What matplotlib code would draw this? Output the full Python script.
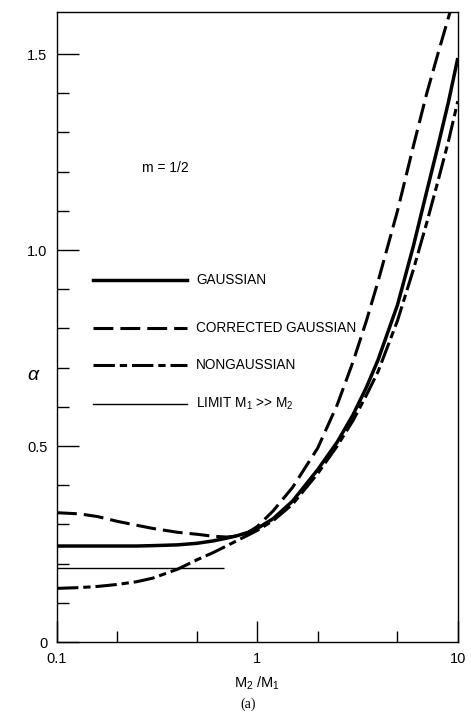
import matplotlib
matplotlib.use("Agg")
import matplotlib.pyplot as plt
from matplotlib.ticker import FixedLocator, NullFormatter
import numpy as np

plt.rcParams['font.family'] = ['Liberation Sans', 'DejaVu Sans']

# mass ratio M2/M1
ratio = [0.1, 0.13, 0.16, 0.2, 0.25, 0.3, 0.4, 0.5, 0.6, 0.7, 0.8, 0.9, 1.0,
         1.2, 1.5, 2.0, 2.5, 3.0, 3.5, 4.0, 5.0, 6.0, 7.0, 8.0, 9.0, 10.0]

alpha_gauss = [0.245, 0.245, 0.245, 0.245, 0.245, 0.246, 0.248, 0.252, 0.258, 0.265,
               0.272, 0.280, 0.290, 0.315, 0.360, 0.440, 0.510, 0.580, 0.650, 0.720,
               0.860, 1.010, 1.150, 1.270, 1.380, 1.490]
alpha_corr = [0.330, 0.327, 0.320, 0.308, 0.298, 0.290, 0.280, 0.275, 0.270, 0.268,
              0.270, 0.280, 0.295, 0.335, 0.395, 0.495, 0.605, 0.715, 0.820, 0.920,
              1.100, 1.265, 1.400, 1.505, 1.595, 1.675]
alpha_nongauss = [0.137, 0.139, 0.142, 0.147, 0.154, 0.163, 0.186, 0.210, 0.228, 0.245,
                  0.260, 0.273, 0.285, 0.310, 0.352, 0.430, 0.500, 0.565, 0.630, 0.690,
                  0.820, 0.950, 1.070, 1.180, 1.280, 1.380]

# limit M1 >> M2
limit_ratio = [0.1, 0.68]
limit_alpha = [0.19, 0.19]

labels = ["GAUSSIAN", "CORRECTED GAUSSIAN", "NONGAUSSIAN",
          "LIMIT M$_\\mathregular{1}$ >> M$_\\mathregular{2}$"]

fig = plt.figure(figsize=(4.71, 7.15), dpi=100)
ax = fig.add_axes([0.121, 0.102, 0.851, 0.881])

styles = [
    dict(color='black', lw=2.5, ls='-'),
    dict(color='black', lw=2.2, ls=(0, (6.5, 2.3))),
    dict(color='black', lw=2.2, ls=(0, (7, 1.6, 2.4, 1.6))),
    dict(color='black', lw=1.0, ls='-'),
]

series = [(ratio, alpha_gauss), (ratio, alpha_corr), (ratio, alpha_nongauss),
          (limit_ratio, limit_alpha)]
for (xs, ys), st in zip(series, styles):
    ax.plot(xs, ys, solid_capstyle='butt', dash_capstyle='butt', **st)

# hand-drawn key inside the axes
key_y = [0.924, 0.800, 0.706, 0.607]
for y, st, lab in zip(key_y, styles, labels):
    ax.plot([0.09, 0.325], [y, y], transform=ax.get_yaxis_transform(),
            dash_capstyle='butt', **st)
    ax.text(0.347, y, lab, transform=ax.get_yaxis_transform(),
            fontsize=9.8, va='center', ha='left')

ax.text(0.213, 1.21, "m = 1/2", transform=ax.get_yaxis_transform(),
        fontsize=10, va='center', ha='left')

ax.set_xscale('log')
ax.set_xlim(0.1, 10)
ax.set_ylim(0, 1.607)

ax.xaxis.set_major_locator(FixedLocator([0.1, 1, 10]))
ax.xaxis.set_minor_locator(FixedLocator([0.2, 0.5, 2, 5]))
ax.xaxis.set_minor_formatter(NullFormatter())
ax.set_xticklabels(["0.1", "1", "10"])

ax.yaxis.set_major_locator(FixedLocator([0, 0.5, 1.0, 1.5]))
ax.yaxis.set_minor_locator(FixedLocator(np.arange(0.1, 1.45, 0.1)))
ax.set_yticklabels(["0", "0.5", "1.0", "1.5"])

ax.tick_params(which='both', direction='in', width=1.0, labelsize=10.5)
ax.tick_params(axis='y', which='major', length=16, pad=7)
ax.tick_params(axis='y', which='minor', length=8.5)
ax.tick_params(axis='x', which='major', length=15, pad=7)
ax.tick_params(axis='x', which='minor', length=8)
for s in ax.spines.values():
    s.set_linewidth(1.0)

ax.set_xlabel("M$_\\mathregular{2}$ /M$_\\mathregular{1}$", fontsize=10.5, labelpad=6)
ax.set_ylabel("α", fontsize=14, rotation=0, va='center', style='italic')
ax.yaxis.set_label_coords(-0.06, 0.423)
fig.text(0.527, 0.0154, "(a)", fontsize=10, family='Liberation Serif',
         ha='center', va='center')

fig.savefig("out.png", dpi=100)
